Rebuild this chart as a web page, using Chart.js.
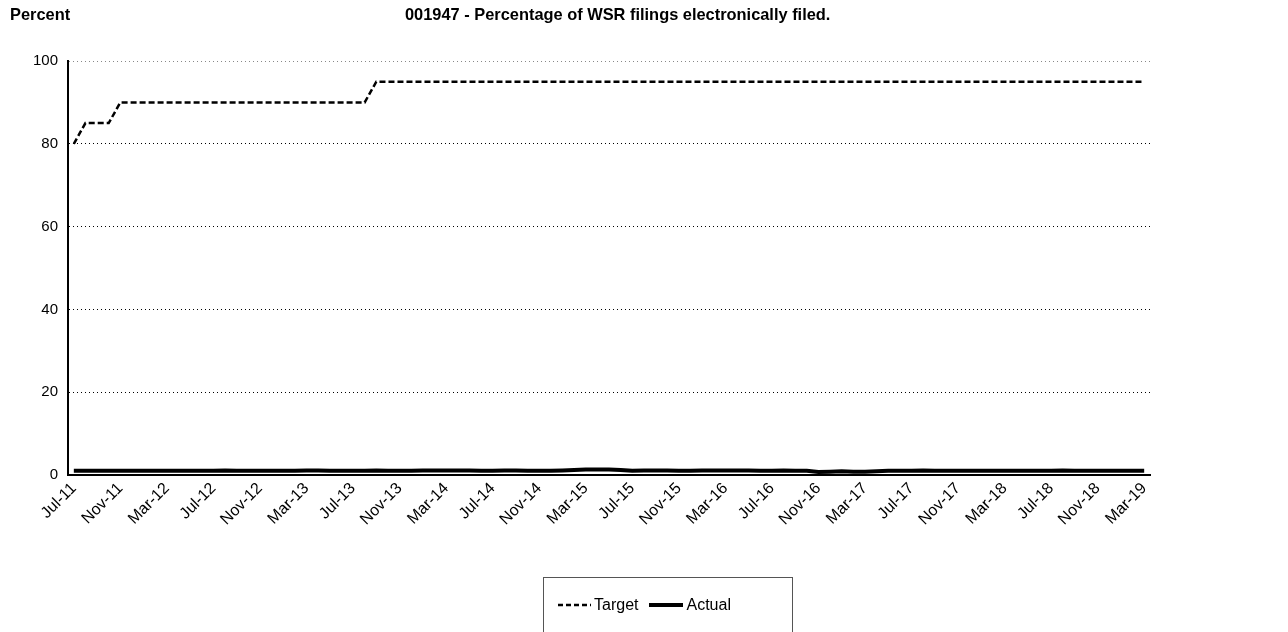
<!DOCTYPE html>
<html>
<head>
<meta charset="utf-8">
<script src="https://cdn.jsdelivr.net/npm/chart.js@4"></script>
<style>
  body { margin: 0; background: #fff; font-family: Arial, 'Liberation Sans', sans-serif; }
  #wrap { position: relative; width: 1288px; height: 632px; }
  .ttl { position: absolute; top: 5px; font-weight: bold; font-size: 16.4px; color: #000; }
  #legend {
    position: absolute; left: 543px; top: 577px; width: 250px; height: 60px;
    border: 1px solid #555; box-sizing: border-box;
    display: flex; align-items: flex-start; padding: 18px 0 0 14px;
    font-size: 16px; color: #000;
  }
  #legend span { display: inline-flex; align-items: center; }
  #legend svg { margin-right: 3px; }
</style>
</head>
<body>
<div id="wrap">
  <canvas id="chart" width="1288" height="632"></canvas>
  <div class="ttl" style="left:10px">Percent</div>
  <div class="ttl" style="left:405px">001947 - Percentage of WSR filings electronically filed.</div>
  <div id="legend">
    <span style="margin-right:11px"><svg width="33" height="6"><line x1="0" y1="3" x2="33" y2="3" stroke="#000" stroke-width="2.5" stroke-dasharray="5,3"/></svg>Target</span>
    <span><svg width="34" height="6"><line x1="0" y1="3" x2="34" y2="3" stroke="#000" stroke-width="4"/></svg>Actual</span>
  </div>
</div>
<script>
// --- DATA --- //
// meses de Jul-11 a Mar-19
const monthNames = ['Jan', 'Feb', 'Mar', 'Apr', 'May', 'Jun', 'Jul', 'Aug', 'Sep', 'Oct', 'Nov', 'Dec']
const months = []
for (let y = 2011, m = 6; ; m++) {
  if (m > 11) { m = 0; y++ }
  if (y === 2019 && m > 2) break
  months.push(monthNames[m] + '-' + String(y).slice(2))
}

const target = [
  80, 85, 85, 85,
  90, 90, 90, 90, 90, 90, 90, 90, 90, 90, 90, 90, 90, 90, 90, 90, 90, 90, 90, 90, 90, 90,
  95, 95, 95, 95, 95, 95, 95, 95, 95, 95, 95, 95, 95, 95, 95, 95, 95, 95, 95,
  95, 95, 95, 95, 95, 95, 95, 95, 95, 95, 95, 95, 95, 95, 95, 95, 95, 95, 95, 95,
  95, 95, 95, 95, 95, 95, 95, 95, 95, 95, 95, 95, 95, 95, 95, 95, 95, 95, 95, 95,
  95, 95, 95, 95, 95, 95, 95, 95
]

const actual = [
  1.0, 1.0, 1.0, 1.0, 1.0, 1.0,
  1.0, 1.0, 1.0, 1.0, 1.0, 1.0, 1.0, 1.1, 1.0, 1.0, 1.0, 1.0,
  1.0, 1.0, 1.1, 1.1, 1.0, 1.0, 1.0, 1.0, 1.1, 1.0, 1.0, 1.0,
  1.1, 1.1, 1.1, 1.1, 1.1, 1.0, 1.0, 1.1, 1.1, 1.0, 1.0, 1.0,
  1.1, 1.2, 1.3, 1.3, 1.3, 1.2, 1.0, 1.1, 1.1, 1.1, 1.0, 1.0,
  1.1, 1.1, 1.1, 1.1, 1.1, 1.0, 1.0, 1.1, 1.0, 1.0, 0.7, 0.8,
  0.9, 0.8, 0.8, 0.9, 1.0, 1.0, 1.0, 1.1, 1.0, 1.0, 1.0, 1.0,
  1.0, 1.0, 1.0, 1.0, 1.0, 1.0, 1.0, 1.1, 1.0, 1.0, 1.0, 1.0,
  1.0, 1.0, 1.0
]

const yTicks = [0, 20, 40, 60, 80, 100]

// --- CHART --- //
const yFont = { family: "Arial, 'Liberation Sans', sans-serif", size: 15 }
const xFont = { family: "Arial, 'Liberation Sans', sans-serif", size: 16 }

new Chart(document.getElementById('chart'), {
  type: 'line',
  data: {
    labels: months,
    datasets: [
      {
        label: 'Target',
        data: target,
        borderColor: '#000',
        borderWidth: 2.5,
        borderDash: [6, 3],
        pointRadius: 0,
        tension: 0
      },
      {
        label: 'Actual',
        data: actual,
        borderColor: '#000',
        borderWidth: 4,
        pointRadius: 0,
        tension: 0
      }
    ]
  },
  options: {
    responsive: false,
    animation: false,
    layout: { padding: { left: 0, top: 61, right: 138, bottom: 82 } },
    plugins: { legend: { display: false }, tooltip: { enabled: false } },
    scales: {
      x: {
        offset: true,
        grid: { display: false, drawTicks: false },
        border: { display: true, color: '#000', width: 2 },
        ticks: {
          autoSkip: false,
          minRotation: 45,
          maxRotation: 45,
          padding: 4,
          color: '#000',
          font: xFont,
          callback: (v, i) => (i % 4 === 0 ? months[i] : '')
        },
        afterFit: s => { s.height = 75 }
      },
      y: {
        min: 0,
        max: 100,
        afterBuildTicks: s => { s.ticks = yTicks.map(v => ({ value: v })) },
        grid: {
          // linha do topo (100) cinza contínua, demais pontilhadas
          color: ctx => (ctx.tick && ctx.tick.value === 100 ? '#888' : '#000'),
          lineWidth: 1,
          drawTicks: false
        },
        border: { display: true, color: '#000', width: 2, dash: [1, 3] },
        ticks: { color: '#000', font: yFont, padding: 10 },
        afterFit: s => { s.width = 68 }
      }
    }
  }
})
</script>
</body>
</html>
